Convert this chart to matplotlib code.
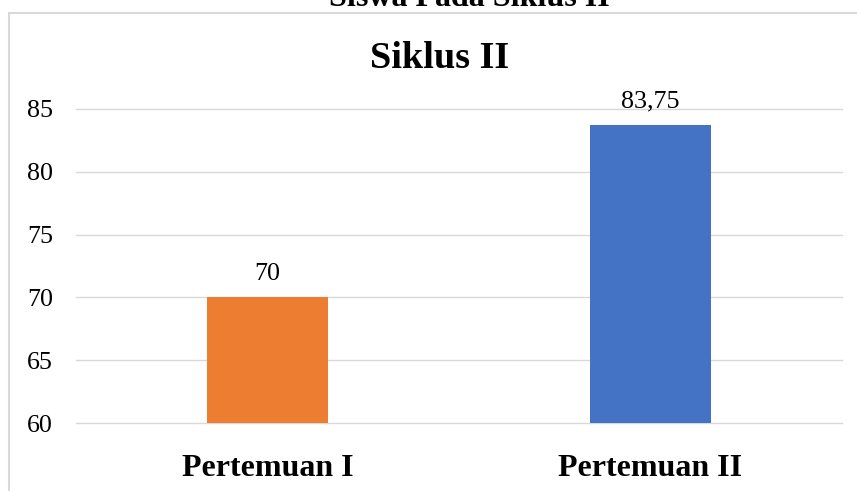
import matplotlib.pyplot as plt
from matplotlib.patches import Rectangle

# Data
kategori = ['Pertemuan I', 'Pertemuan II']
nilai = [70, 83.75]
label_nilai = ['70', '83,75']
warna = ['#ED7D31', '#4472C4']
yticks = [60, 65, 70, 75, 80, 85]

W, H = 857, 491
fig = plt.figure(figsize=(W / 100, H / 100), dpi=100)
plt.rcParams['font.family'] = ['Liberation Serif', 'DejaVu Serif']

# Bingkai area grafik
fig.patches.append(Rectangle((9 / W, -0.1), 1.2, (H - 13) / H + 0.1,
                             transform=fig.transFigure, fill=False,
                             edgecolor='#d9d9d9', linewidth=1.5))

# Judul
fig.text(469 / W, (H - 5.5) / H, 'Siswa Pada Siklus II', ha='center', va='baseline',
         fontsize=23, fontweight='bold')
fig.text(440 / W, (H - 68) / H, 'Siklus II', ha='center', va='baseline',
         fontsize=27.5, fontweight='bold')

ax = fig.add_axes([76 / W, 68 / H, (842 - 76) / W, (423 - 109) / H])
x = range(len(kategori))
bars = ax.bar(x, nilai, width=0.316, color=warna, zorder=2)

for b, t in zip(bars, label_nilai):
    ax.annotate(t, (b.get_x() + b.get_width() / 2, b.get_height()),
                xytext=(0, 12.2), textcoords='offset points',
                ha='center', va='baseline', fontsize=18.7, annotation_clip=False)

ax.set_xlim(-0.5, 1.5)
ax.set_ylim(60, 85)
ax.set_yticks(yticks)
ax.set_xticks(list(x))
ax.set_xticklabels(kategori, fontsize=23, fontweight='bold')
ax.tick_params(axis='y', length=0, pad=16.5, labelsize=18.7)
ax.tick_params(axis='x', length=0, pad=22.5)
ax.grid(axis='y', color='#d9d9d9', linewidth=1.0)
ax.set_axisbelow(True)
for line in ax.get_ygridlines():
    line.set_clip_on(False)
for s in ax.spines.values():
    s.set_visible(False)

fig.savefig('out.png', dpi=100)
